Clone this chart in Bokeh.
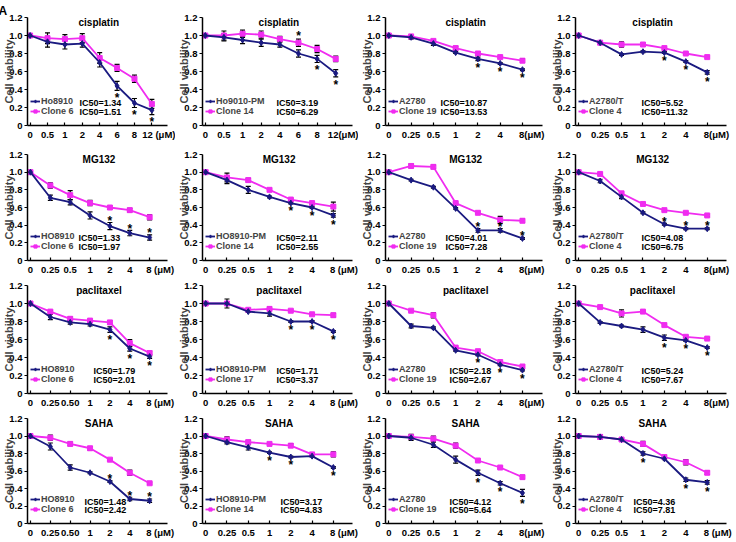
from bokeh.plotting import figure
from bokeh.layouts import gridplot
from bokeh.models import (ColumnDataSource, Whisker, TeeHead, Label, Legend, LegendItem,
                          FixedTicker, Range1d, NumeralTickFormatter)
from bokeh.core.properties import value
from bokeh.embed import file_html
from bokeh.resources import INLINE

FONT = "Liberation Sans"
NAVY = "#1a1a80"
MAG = "#f02cf0"

# ---------------- data ----------------
doses_12 = ["0", "0.5", "1", "2", "4", "6", "8", "12"]
doses_8 = ["0", "0.25", "0.5", "1", "2", "4", "8"]
doses_8b = ["0", "0.25", "0.50", "1", "2", "4", "8"]
drugs = ["cisplatin", "MG132", "paclitaxel", "SAHA"]
unit_sep = [[" ", "", "", ""], [" ", " ", "", ""], [" ", " ", "", ""], [" ", " ", "", " "]]

# row 1: cisplatin
cis_ho8910 = [1.0, 0.93, 0.90, 0.91, 0.70, 0.44, 0.25, 0.17]
cis_ho8910_err = [0, 0.06, 0.05, 0.04, 0.05, 0.05, 0.05, 0.05]
cis_clone6 = [1.0, 0.97, 0.96, 0.97, 0.75, 0.64, 0.52, 0.24]
cis_clone6_err = [0, 0.06, 0.05, 0.05, 0.06, 0.04, 0.04, 0.05]
cis_ho9010pm = [1.0, 0.98, 0.95, 0.92, 0.90, 0.80, 0.74, 0.58]
cis_ho9010pm_err = [0, 0.04, 0.04, 0.04, 0.03, 0.04, 0.04, 0.04]
cis_clone14 = [1.0, 1.0, 1.02, 1.01, 0.96, 0.92, 0.85, 0.74]
cis_clone14_err = [0, 0.05, 0.04, 0.04, 0.03, 0.04, 0.04, 0.03]
cis_a2780 = [1.0, 0.98, 0.91, 0.81, 0.74, 0.69, 0.62]
cis_a2780_err = [0, 0.02, 0.02, 0.01, 0.02, 0.01, 0.01]
cis_clone19 = [1.0, 0.99, 0.94, 0.86, 0.80, 0.76, 0.72]
cis_clone19_err = [0, 0.01, 0.01, 0.02, 0.02, 0.01, 0.02]
cis_a2780t = [1.0, 0.92, 0.79, 0.82, 0.81, 0.71, 0.59]
cis_a2780t_err = [0, 0.01, 0.01, 0.01, 0.01, 0.01, 0.02]
cis_clone4 = [1.0, 0.92, 0.90, 0.90, 0.86, 0.80, 0.76]
cis_clone4_err = [0, 0.01, 0.03, 0.02, 0.01, 0.01, 0.01]

# row 2: MG132
mg_ho8910 = [1.0, 0.71, 0.66, 0.51, 0.39, 0.31, 0.26]
mg_ho8910_err = [0, 0.03, 0.03, 0.04, 0.04, 0.03, 0.03]
mg_clone6 = [1.0, 0.85, 0.74, 0.65, 0.60, 0.57, 0.49]
mg_clone6_err = [0, 0.03, 0.05, 0.03, 0.02, 0.02, 0.03]
mg_ho8910pm = [1.0, 0.91, 0.80, 0.72, 0.65, 0.60, 0.51]
mg_ho8910pm_err = [0, 0.04, 0.04, 0.01, 0.01, 0.01, 0.02]
mg_clone14 = [1.0, 0.94, 0.91, 0.80, 0.69, 0.65, 0.61]
mg_clone14_err = [0, 0.05, 0.02, 0.01, 0.01, 0.01, 0.05]
mg_a2780 = [1.0, 0.91, 0.83, 0.59, 0.34, 0.34, 0.25]
mg_a2780_err = [0, 0.01, 0.01, 0.01, 0.02, 0.02, 0.01]
mg_clone19 = [1.0, 1.07, 1.06, 0.65, 0.54, 0.46, 0.45]
mg_clone19_err = [0, 0.02, 0.02, 0.01, 0.01, 0.04, 0.02]
mg_a2780t = [1.0, 0.90, 0.72, 0.54, 0.41, 0.36, 0.36]
mg_a2780t_err = [0, 0.02, 0.02, 0.01, 0.01, 0.01, 0.01]
mg_clone4 = [1.0, 0.98, 0.76, 0.64, 0.57, 0.54, 0.51]
mg_clone4_err = [0, 0.01, 0.01, 0.01, 0.01, 0.01, 0.01]

# row 3: paclitaxel
pac_ho8910 = [1.0, 0.85, 0.79, 0.77, 0.71, 0.50, 0.41]
pac_ho8910_err = [0, 0.03, 0.02, 0.02, 0.03, 0.03, 0.02]
pac_clone6 = [1.0, 0.91, 0.83, 0.81, 0.79, 0.56, 0.45]
pac_clone6_err = [0, 0.01, 0.02, 0.01, 0.02, 0.04, 0.02]
pac_ho8910pm = [1.0, 1.0, 0.91, 0.89, 0.80, 0.80, 0.69]
pac_ho8910pm_err = [0, 0.05, 0.01, 0.03, 0.01, 0.01, 0.01]
pac_clone17 = [1.0, 1.0, 0.93, 0.94, 0.92, 0.88, 0.87]
pac_clone17_err = [0, 0.01, 0.01, 0.02, 0.01, 0.01, 0.02]
pac_a2780 = [1.0, 0.75, 0.73, 0.48, 0.43, 0.32, 0.26]
pac_a2780_err = [0, 0.02, 0.01, 0.01, 0.01, 0.01, 0.01]
pac_clone19 = [1.0, 0.92, 0.87, 0.51, 0.47, 0.35, 0.30]
pac_clone19_err = [0, 0.01, 0.03, 0.01, 0.01, 0.01, 0.01]
pac_a2780t = [1.0, 0.79, 0.75, 0.71, 0.62, 0.59, 0.51]
pac_a2780t_err = [0, 0.01, 0.01, 0.03, 0.03, 0.01, 0.01]
pac_clone4 = [1.0, 0.96, 0.89, 0.91, 0.76, 0.63, 0.61]
pac_clone4_err = [0, 0.01, 0.04, 0.01, 0.01, 0.01, 0.01]

# row 4: SAHA
saha_ho8910 = [1.0, 0.88, 0.64, 0.58, 0.48, 0.28, 0.26]
saha_ho8910_err = [0, 0.04, 0.03, 0.01, 0.01, 0.02, 0.02]
saha_clone6 = [1.0, 0.98, 0.91, 0.86, 0.73, 0.58, 0.46]
saha_clone6_err = [0, 0.03, 0.02, 0.02, 0.01, 0.03, 0.01]
saha_ho8910pm = [1.0, 0.93, 0.87, 0.81, 0.76, 0.77, 0.64]
saha_ho8910pm_err = [0, 0.02, 0.03, 0.01, 0.01, 0.01, 0.01]
saha_clone14 = [1.0, 0.96, 0.93, 0.91, 0.89, 0.79, 0.79]
saha_clone14_err = [0, 0.03, 0.02, 0.01, 0.02, 0.02, 0.03]
saha_a2780 = [1.0, 0.98, 0.90, 0.73, 0.58, 0.46, 0.35]
saha_a2780_err = [0, 0.03, 0.03, 0.04, 0.03, 0.02, 0.04]
saha_clone19 = [1.0, 0.99, 0.97, 0.89, 0.72, 0.64, 0.53]
saha_clone19_err = [0, 0.03, 0.03, 0.03, 0.01, 0.01, 0.02]
saha_a2780t = [1.0, 0.99, 0.96, 0.80, 0.74, 0.50, 0.47]
saha_a2780t_err = [0, 0.02, 0.01, 0.02, 0.01, 0.02, 0.02]
saha_clone4 = [1.0, 0.99, 0.96, 0.91, 0.76, 0.70, 0.58]
saha_clone4_err = [0, 0.02, 0.01, 0.03, 0.01, 0.03, 0.02]

# labels / IC50 values
names_navy = [["Ho8910", "Ho9010-PM", "A2780", "A2780/T"],
              ["HO8910", "HO8910-PM", "A2780", "A2780/T"],
              ["HO8910", "HO8910-PM", "A2780", "A2780/T"],
              ["HO8910", "HO8910-PM", "A2780", "A2780/T"]]
names_mag = [["Clone 6", "Clone 14", "Clone 19", "Clone 4"],
             ["Clone 6", "Clone 14", "Clone 19", "Clone 4"],
             ["Clone 6", "Clone 17", "Clone 19", "Clone 4"],
             ["Clone 6", "Clone 14", "Clone 19", "Clone 4"]]
ic50_navy = [["1.34", "3.19", "10.87", "5.52"],
             ["1.33", "2.11", "4.01", "4.08"],
             ["1.79", "1.71", "2.18", "5.24"],
             ["1.48", "3.17", "4.12", "4.36"]]
ic50_mag = [["1.51", "6.29", "13.53", "11.32"],
            ["1.97", "2.55", "7.28", "6.75"],
            ["2.01", "3.37", "2.67", "7.67"],
            ["2.42", "4.83", "5.64", "7.81"]]
# significance marks: (dose index, side) side: -1 below dark line, +1 above, 2 above light line
stars = [[[(5, -1), (6, -1), (7, -1)], [(5, 2), (6, -1), (7, -1)], [(4, -1), (5, -1), (6, -1)], [(4, -1), (5, -1), (6, -1)]],
         [[(4, 1), (5, 1), (6, 1)], [(4, -1), (5, -1), (6, -1)], [(4, 1), (5, 1), (6, 1)], [(4, 1), (5, 1), (6, 1)]],
         [[(4, -1), (5, -1), (6, -1)], [(4, -1), (5, -1), (6, -1)], [(4, -1), (5, -1), (6, -1)], [(4, -1), (5, -1), (6, -1)]],
         [[(4, 1), (5, 1), (6, 1)], [(3, -1), (4, -1), (6, -1)], [(4, -1), (5, -1), (6, -1)], [(3, -1), (5, -1), (6, -1)]]]

series = [
    [(doses_12, cis_ho8910, cis_ho8910_err, cis_clone6, cis_clone6_err),
     (doses_12, cis_ho9010pm, cis_ho9010pm_err, cis_clone14, cis_clone14_err),
     (doses_8, cis_a2780, cis_a2780_err, cis_clone19, cis_clone19_err),
     (doses_8, cis_a2780t, cis_a2780t_err, cis_clone4, cis_clone4_err)],
    [(doses_8, mg_ho8910, mg_ho8910_err, mg_clone6, mg_clone6_err),
     (doses_8, mg_ho8910pm, mg_ho8910pm_err, mg_clone14, mg_clone14_err),
     (doses_8, mg_a2780, mg_a2780_err, mg_clone19, mg_clone19_err),
     (doses_8, mg_a2780t, mg_a2780t_err, mg_clone4, mg_clone4_err)],
    [(doses_8b, pac_ho8910, pac_ho8910_err, pac_clone6, pac_clone6_err),
     (doses_8, pac_ho8910pm, pac_ho8910pm_err, pac_clone17, pac_clone17_err),
     (doses_8, pac_a2780, pac_a2780_err, pac_clone19, pac_clone19_err),
     (doses_8, pac_a2780t, pac_a2780t_err, pac_clone4, pac_clone4_err)],
    [(doses_8b, saha_ho8910, saha_ho8910_err, saha_clone6, saha_clone6_err),
     (doses_8, saha_ho8910pm, saha_ho8910pm_err, saha_clone14, saha_clone14_err),
     (doses_8, saha_a2780, saha_a2780_err, saha_clone19, saha_clone19_err),
     (doses_8, saha_a2780t, saha_a2780t_err, saha_clone4, saha_clone4_err)],
]

# ---------------- layout parameters ----------------
W = [175, 183, 190, 186]
H = [142, 135, 133, 130]
TOPB = [17, 12, 8, 8]
RIGHTB = [8, 6, 6, 8]
IC50_PX = [[52, 74, 55, 66], [51, 74, 60, 66], [66, 74, 64, 66], [57, 78, 64, 58]]
YTICKS = [0, 0.2, 0.4, 0.6, 0.8, 1.0, 1.2]
NBSP = "\u00a0"


def lab_style(size):
    return dict(text_font=FONT, text_font_style="bold", text_color="black", text_font_size=size)


def make_panel(r, c):
    doses, nv, ne, mv, me = series[r][c]
    n = len(doses)
    xs = list(range(n))
    xend = n - 1 + 0.9
    p = figure(width=W[c], height=H[r], output_backend="svg", toolbar_location=None,
               x_range=Range1d(-0.15, xend), y_range=Range1d(0, 1.2),
               min_border_left=0, min_border_right=RIGHTB[c], min_border_top=TOPB[r],
               min_border_bottom=0)
    p.xgrid.visible = False
    p.ygrid.visible = False
    p.outline_line_color = None
    p.background_fill_color = "white"

    if r == 0 and c == 0:
        p.title.text = "A"
        p.title.align = "left"
        p.title.offset = -29
        p.title.standoff = 0
        p.title.text_font = FONT
        p.title.text_font_style = "bold"
        p.title.text_font_size = "12px"
        p.title.text_color = "black"

    labels = {i: d for i, d in enumerate(doses)}
    sep = unit_sep[r][c]
    pad = NBSP * (8 if sep else 7)
    labels[n - 1] = pad + doses[-1] + sep + "(μM)"
    p.xaxis.ticker = FixedTicker(ticks=xs)
    p.xaxis.major_label_overrides = labels
    p.xaxis.major_tick_in = 3
    p.xaxis.major_tick_out = 0
    p.xaxis.major_label_standoff = 3
    p.yaxis.ticker = FixedTicker(ticks=YTICKS)
    p.yaxis.formatter = NumeralTickFormatter(format="0.0")
    p.yaxis.major_label_overrides = {0: "0"}
    p.yaxis.major_tick_in = 0
    p.yaxis.major_tick_out = 3
    p.yaxis.major_label_standoff = 2
    p.yaxis.axis_label = "Cell viability"
    p.yaxis.axis_label_standoff = -9
    p.yaxis.axis_label_text_font = FONT
    p.yaxis.axis_label_text_font_style = "bold"
    p.yaxis.axis_label_text_font_size = "11px"
    for ax in (p.xaxis, p.yaxis):
        ax.axis_line_width = 1.5
        ax.major_tick_line_width = 1.2
        ax.minor_tick_line_color = None
        ax.major_label_text_font = FONT
        ax.major_label_text_font_style = "bold"
        ax.major_label_text_color = "black"
    p.xaxis.major_label_text_font_size = "9.5px"
    p.yaxis.major_label_text_font_size = "9.5px"

    # lines
    sn = ColumnDataSource(dict(x=xs, y=nv))
    sm = ColumnDataSource(dict(x=xs, y=mv))
    rml = p.line("x", "y", source=sm, line_color=MAG, line_width=1.8)
    rms = p.scatter("x", "y", source=sm, marker="square", size=5, color=MAG)
    rnl = p.line("x", "y", source=sn, line_color=NAVY, line_width=1.8)
    rns = p.scatter("x", "y", source=sn, marker="diamond", size=6, color=NAVY)

    # error bars
    for vals, err in ((nv, ne), (mv, me)):
        idx = [i for i in xs if err[i] > 0]
        ws = ColumnDataSource(dict(x=idx, lo=[vals[i] - err[i] for i in idx],
                                   hi=[vals[i] + err[i] for i in idx]))
        p.add_layout(Whisker(base="x", lower="lo", upper="hi", source=ws,
                             line_color="black", line_width=1.2,
                             upper_head=TeeHead(size=5, line_color="black", line_width=1.2),
                             lower_head=TeeHead(size=5, line_color="black", line_width=1.2)))

    # significance asterisks
    sx, sy = [], []
    for i, side in stars[r][c]:
        sx.append(i)
        if side < 0:
            sy.append(nv[i] - ne[i] - 0.085)
        elif side == 1:
            sy.append(nv[i] + ne[i] + 0.02)
        else:
            sy.append(mv[i] + me[i] + 0.03)
    p.text(x=sx, y=sy, text=["*"] * len(sx), text_align="center", text_baseline="middle",
           text_font=value(FONT), text_font_style="bold", text_font_size="12px",
           text_color="black")

    # panel title (drug)
    p.add_layout(Label(x=xend / 2, y=1.14, text=drugs[r], text_align="center",
                       text_baseline="middle", **lab_style("10px")))

    # legend
    leg = Legend(items=[LegendItem(label=names_navy[r][c], renderers=[rnl, rns]),
                        LegendItem(label=names_mag[r][c], renderers=[rml, rms])],
                 location=(2, 8), orientation="vertical",
                 label_text_font=FONT, label_text_font_style="bold", label_text_font_size="9px",
                 glyph_width=10, glyph_height=8, label_height=9, label_standoff=1,
                 spacing=0, padding=1, margin=0,
                 background_fill_alpha=0, border_line_alpha=0)
    p.add_layout(leg)

    # IC50 values
    p.add_layout(Label(x=IC50_PX[r][c], x_units="screen", y=0.25, text="IC50=" + ic50_navy[r][c],
                       text_baseline="middle", **lab_style("9px")))
    p.add_layout(Label(x=IC50_PX[r][c], x_units="screen", y=0.15, text="IC50=" + ic50_mag[r][c],
                       text_baseline="middle", **lab_style("9px")))
    return p


children = [[make_panel(r, c) for c in range(4)] for r in range(4)]
grid = gridplot(children, toolbar_location=None)

open("out.html", "w").write(file_html(grid, INLINE))
